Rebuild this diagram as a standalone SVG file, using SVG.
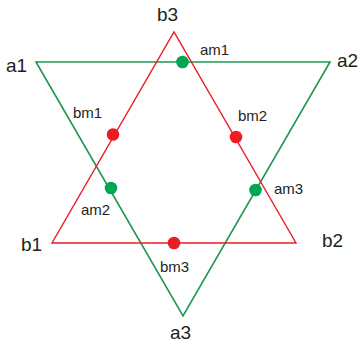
<svg xmlns="http://www.w3.org/2000/svg" width="361" height="349" viewBox="0 0 361 349">
<style>
.g{fill:none;stroke:#1e9650;stroke-width:1.6}
.r{fill:none;stroke:#ec1c24;stroke-width:1.4}
.gd{fill:#00a651}
.rd{fill:#ed1c24}
.big{font-family:"Liberation Sans",Arial,sans-serif;font-size:19px;fill:#231f20}
.sm{font-family:"Liberation Sans",Arial,sans-serif;font-size:15px;fill:#231f20}
</style>
<rect width="361" height="349" fill="#fff"/>
<g id="connectors">
<polygon id="triA" class="g" points="36,62 330,62 183,316"/>
<polygon id="triB" class="r" points="52,243 296,243 174,32"/>
</g>
<g id="a1"><text class="big" x="6" y="72">a1</text></g>
<g id="a2"><text class="big" x="337" y="67">a2</text></g>
<g id="a3"><text class="big" x="170" y="339">a3</text></g>
<g id="b1"><text class="big" x="21" y="251">b1</text></g>
<g id="b2"><text class="big" x="322" y="247">b2</text></g>
<g id="b3"><text class="big" x="157" y="21">b3</text></g>
<g id="am1"><circle class="gd" cx="182.5" cy="62" r="6.3"/><text class="sm" x="200" y="55">am1</text></g>
<g id="am2"><circle class="gd" cx="111" cy="188" r="6.3"/><text class="sm" x="81" y="215">am2</text></g>
<g id="am3"><circle class="gd" cx="255.5" cy="190" r="6.3"/><text class="sm" x="274" y="194">am3</text></g>
<g id="bm1"><circle class="rd" cx="113" cy="134.5" r="6.3"/><text class="sm" x="73" y="118">bm1</text></g>
<g id="bm2"><circle class="rd" cx="236" cy="137" r="6.3"/><text class="sm" x="238" y="121">bm2</text></g>
<g id="bm3"><circle class="rd" cx="174" cy="243" r="6.3"/><text class="sm" x="160" y="272">bm3</text></g>
</svg>
